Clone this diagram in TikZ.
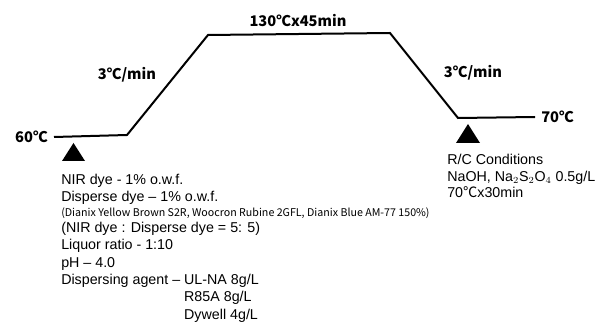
\documentclass[tikz,border=0pt]{standalone}
\usepackage{fontspec}
\setmainfont{Liberation Sans}
\newfontfamily\cjk{Noto Sans CJK KR}
\usetikzlibrary{positioning}
\tikzset{
  profile/.style={draw=black, line width=1.5pt, line join=miter},
  templabel/.style={
    inner sep=0pt, text=black,
    font=\cjk\bfseries\fontsize{11}{13}\selectfont
  },
  note/.style={
    inner sep=0pt, align=left, anchor=north west,
    font=\fontsize{10.7}{13}\selectfont
  },
  marker/.style={fill=black}
}

\begin{document}
\begin{tikzpicture}[x=0.75pt, y=-0.75pt]
        \useasboundingbox (0,0) rectangle (602,327);
        % temperature profile
        \coordinate (p0) at (54,137);
        \coordinate (p1) at (127,135);
        \coordinate (p2) at (208,35);
        \coordinate (p3) at (390,33);
        \coordinate (p4) at (458,118);
        \coordinate (p5) at (535,117);
        \draw[profile] (p0) -- (p1) -- (p2) -- (p3) -- (p4) -- (p5);
        \node[templabel, anchor=east] (start) at (48,137) {60℃};
        \node[templabel] (rise) at (127,75) {3℃/min};
        \node[templabel] (hold) at (298,21) {130℃x45min};
        \node[templabel] (fall) at (473,73) {3℃/min};
        \node[templabel, anchor=west] (end) at (541,117) {70℃};
        % markers
        \fill[marker] (62,161) -- (85,161) -- (73.5,143) -- cycle;
        \fill[marker] (456,143) -- (480,143) -- (468,124) -- cycle;
        % dyeing conditions
        \node[note] (dyeing) at (61,174) {NIR dye - 1\% o.w.f.\\
          Disperse dye -- 1\% o.w.f.\\[-1.8pt]
          {\cjk\fontsize{8}{9}\selectfont (Dianix Yellow Brown S2R, Woocron Rubine 2GFL, Dianix Blue AM-77 150\%)}\\[-1.4pt]
          (NIR dye : Disperse dye = 5: 5)\\
          Liquor ratio - 1:10\\
          pH -- 4.0\\
          Dispersing agent -- UL-NA 8g/L\\
          \phantom{Dispersing agent -- }R85A 8g/L\\
          \phantom{Dispersing agent -- }Dywell 4g/L};
        % reduction clearing
        \node[note, font=\fontsize{10.7}{12.4}\selectfont] (rc) at (447,154) {R/C Conditions\\
          NaOH, Na$_2$S$_2$O$_4$ 0.5g/L\\
          70{\cjk ℃}x30min};
      \end{tikzpicture}
\end{document}
